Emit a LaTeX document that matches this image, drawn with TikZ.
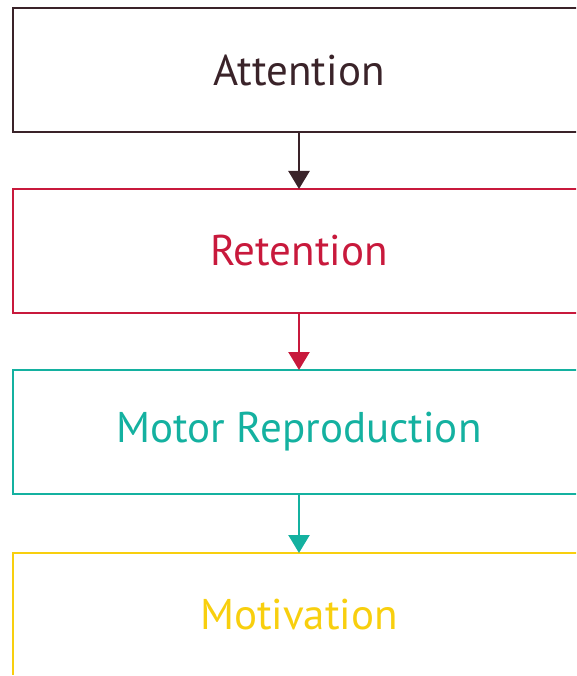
\documentclass[tikz,border=0pt]{standalone}
\usepackage{fontspec}
\setmainfont{PT Sans}
\usetikzlibrary{positioning,arrows.meta}
\definecolor{attcol}{HTML}{3A2329}
\definecolor{retcol}{HTML}{C8193C}
\definecolor{motcol}{HTML}{14B1A0}
\definecolor{motvcol}{HTML}{F8CF0E}
\begin{document}
\begin{tikzpicture}[x=1pt,y=1pt]

    \tikzset{
      stage/.style={
        draw,
        line width=2.4pt,
        rectangle,
        outer sep=0pt,
        inner sep=0pt,
        minimum width=572pt,
        minimum height=124pt,
        font=\fontsize{43}{50}\selectfont,
      },
      link/.style={
        line width=2.4pt,
        -{Triangle[width=21pt,length=18pt]},
      },
    }
    \useasboundingbox (0,0) rectangle (576,-676);
    \clip (0,0) rectangle (576,-674);
    \node[stage, draw=attcol, text=attcol] (att) at (299,-70) {Attention};
    \node[stage, draw=retcol, text=retcol, below=57pt of att] (ret) {Retention};
    \node[stage, draw=motcol, text=motcol, below=57pt of ret] (mot) {Motor Reproduction};
    \node[stage, draw=motvcol, text=motvcol, below=59pt of mot] (motv) {Motivation};
    \draw[link, attcol] (att.south) -- (ret.north);
    \draw[link, retcol] (ret.south) -- (mot.north);
    \draw[link, motcol] (mot.south) -- (motv.north);

\end{tikzpicture}
\end{document}
